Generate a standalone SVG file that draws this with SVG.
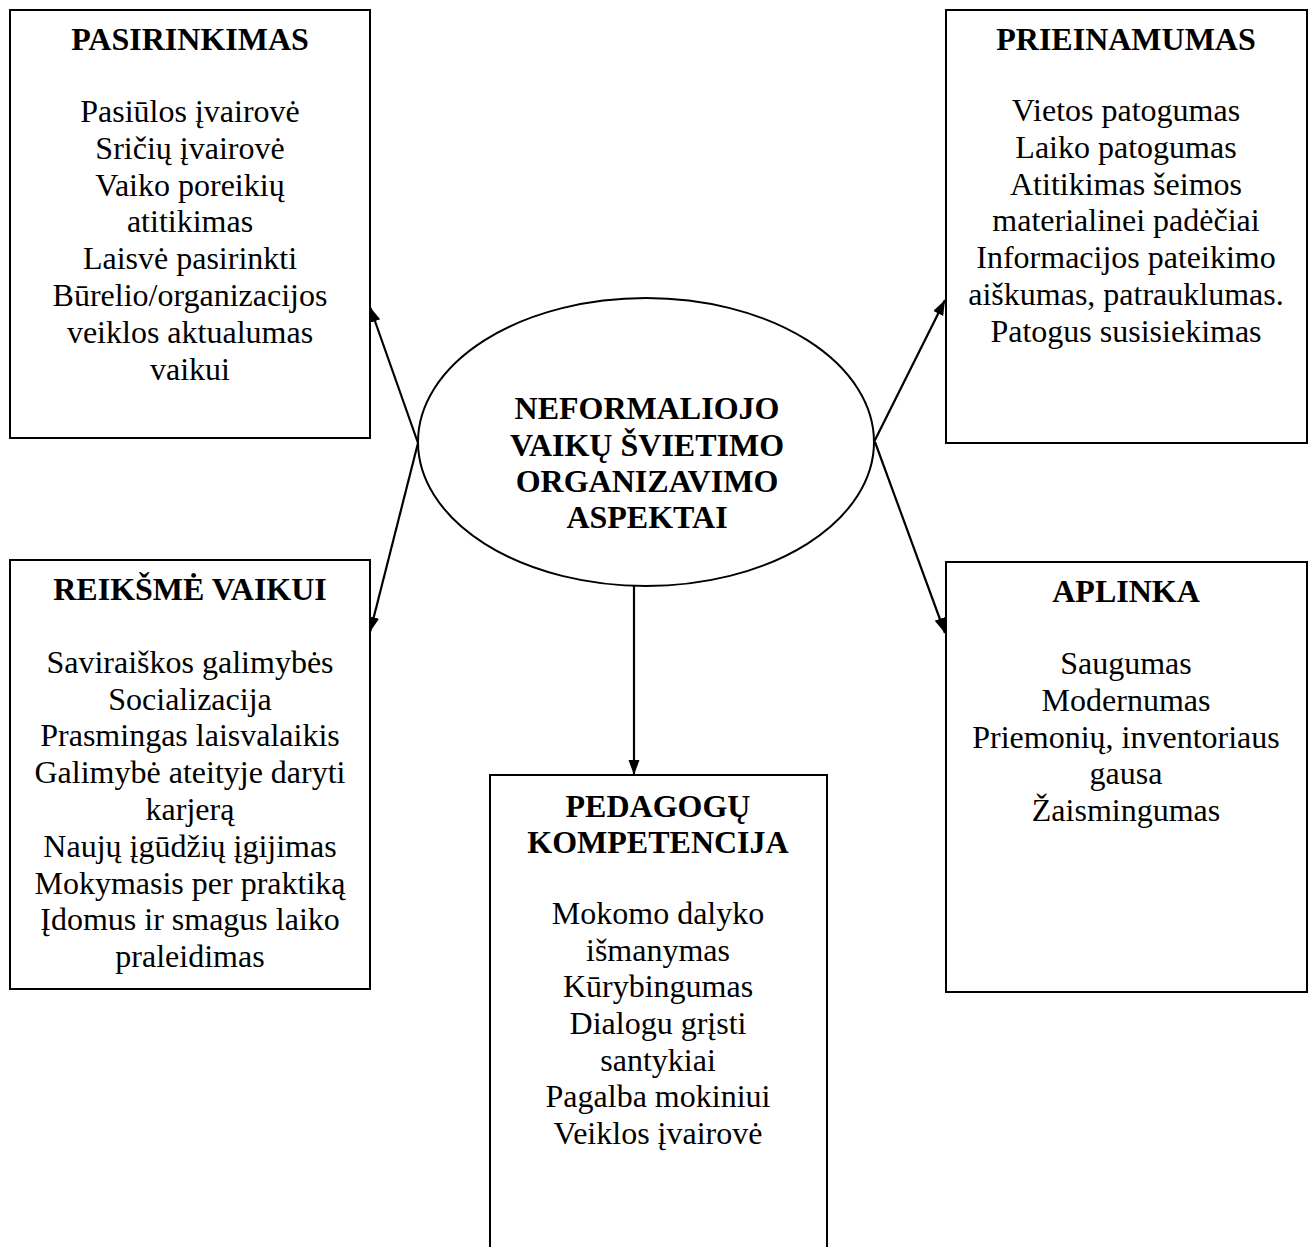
<svg xmlns="http://www.w3.org/2000/svg" width="1311" height="1247" viewBox="0 0 1311 1247">
<style>
.box{fill:#fff;stroke:#000;stroke-width:2}
.ell{fill:#fff;stroke:#000;stroke-width:2}
.conn{stroke:#000;stroke-width:2.2;fill:none}
text{font-family:"Liberation Serif","Times New Roman",serif;font-size:32px;fill:#000;text-anchor:middle}
.t{font-weight:bold}
</style>
<defs>
<marker id="ah" markerUnits="userSpaceOnUse" markerWidth="16" markerHeight="12" refX="15" refY="5.5" orient="auto">
<path d="M0,0 L15,5.5 L0,11 z" fill="#000"/>
</marker>
</defs>
<rect width="1311" height="1247" fill="#fff"/>
<g id="connectors">
<line class="conn" x1="418" y1="443" x2="370" y2="307" marker-end="url(#ah)"/>
<line class="conn" x1="418" y1="443" x2="370" y2="632" marker-end="url(#ah)"/>
<line class="conn" x1="874" y1="442" x2="945" y2="300" marker-end="url(#ah)"/>
<line class="conn" x1="875" y1="442" x2="945" y2="633" marker-end="url(#ah)"/>
<line class="conn" x1="634" y1="586" x2="634" y2="775" marker-end="url(#ah)"/>
</g>
<g id="center">
<ellipse class="ell" cx="646" cy="442" rx="228" ry="144"/>
<text class="t"><tspan x="647" y="419">NEFORMALIOJO</tspan><tspan x="647" y="456">VAIKŲ ŠVIETIMO</tspan><tspan x="647" y="492">ORGANIZAVIMO</tspan><tspan x="647" y="528">ASPEKTAI</tspan></text>
</g>
<g id="pasirinkimas">
<rect class="box" x="10" y="10" width="360" height="428"/>
<text class="t" x="190" y="50">PASIRINKIMAS</text>
<text><tspan x="190" y="122">Pasiūlos įvairovė</tspan><tspan x="190" y="159">Sričių įvairovė</tspan><tspan x="190" y="196">Vaiko poreikių</tspan><tspan x="190" y="232">atitikimas</tspan><tspan x="190" y="269">Laisvė pasirinkti</tspan><tspan x="190" y="306">Būrelio/organizacijos</tspan><tspan x="190" y="343">veiklos aktualumas</tspan><tspan x="190" y="380">vaikui</tspan></text>
</g>
<g id="prieinamumas">
<rect class="box" x="946" y="10" width="361" height="433"/>
<text class="t" x="1126" y="50">PRIEINAMUMAS</text>
<text><tspan x="1126" y="121">Vietos patogumas</tspan><tspan x="1126" y="158">Laiko patogumas</tspan><tspan x="1126" y="195">Atitikimas šeimos</tspan><tspan x="1126" y="231">materialinei padėčiai</tspan><tspan x="1126" y="268">Informacijos pateikimo</tspan><tspan x="1126" y="305">aiškumas, patrauklumas.</tspan><tspan x="1126" y="342">Patogus susisiekimas</tspan></text>
</g>
<g id="reiksme">
<rect class="box" x="10" y="560" width="360" height="429"/>
<text class="t" x="190" y="600">REIKŠMĖ VAIKUI</text>
<text><tspan x="190" y="673">Saviraiškos galimybės</tspan><tspan x="190" y="710">Socializacija</tspan><tspan x="190" y="746">Prasmingas laisvalaikis</tspan><tspan x="190" y="783">Galimybė ateityje daryti</tspan><tspan x="190" y="820">karjerą</tspan><tspan x="190" y="857">Naujų įgūdžių įgijimas</tspan><tspan x="190" y="894">Mokymasis per praktiką</tspan><tspan x="190" y="930">Įdomus ir smagus laiko</tspan><tspan x="190" y="967">praleidimas</tspan></text>
</g>
<g id="aplinka">
<rect class="box" x="946" y="562" width="361" height="430"/>
<text class="t" x="1126" y="602">APLINKA</text>
<text><tspan x="1126" y="674">Saugumas</tspan><tspan x="1126" y="711">Modernumas</tspan><tspan x="1126" y="748">Priemonių, inventoriaus</tspan><tspan x="1126" y="784">gausa</tspan><tspan x="1126" y="821">Žaismingumas</tspan></text>
</g>
<g id="pedagogu">
<rect class="box" x="490" y="775" width="337" height="500"/>
<text class="t"><tspan x="658" y="817">PEDAGOGŲ</tspan><tspan x="658" y="853">KOMPETENCIJA</tspan></text>
<text><tspan x="658" y="924">Mokomo dalyko</tspan><tspan x="658" y="961">išmanymas</tspan><tspan x="658" y="997">Kūrybingumas</tspan><tspan x="658" y="1034">Dialogu grįsti</tspan><tspan x="658" y="1071">santykiai</tspan><tspan x="658" y="1107">Pagalba mokiniui</tspan><tspan x="658" y="1144">Veiklos įvairovė</tspan></text>
</g>
</svg>
